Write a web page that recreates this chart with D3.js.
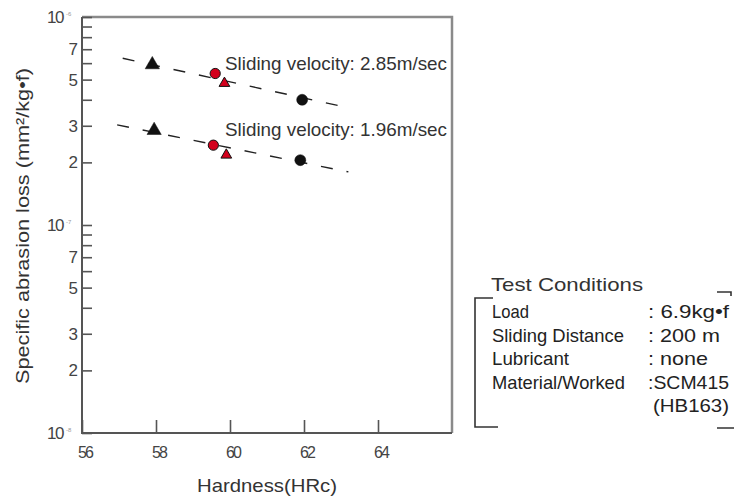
<!DOCTYPE html>
<html>
<head>
<meta charset="utf-8">
<script src="https://cdn.jsdelivr.net/npm/d3@7"></script>
<style>
  html, body { margin: 0; padding: 0; background: #fff; }
  svg { display: block; font-family: "Liberation Sans", Arial, sans-serif; }
</style>
</head>
<body>
<svg id="chart" width="734" height="496"></svg>
<script>
// ---------- data ----------
const xTickValues = [56, 58, 60, 62, 64];
const xTickLabels = ["56", "58", "60", "62", "64"];
const yMajorValues = [1e-8, 1e-7, 1e-6];
const yMajorExponents = ["-8", "-7", "-6"];
const yMinorMultipliers = [2, 3, 4, 5, 6, 7, 8, 9];
const yLabeledMultipliers = [2, 3, 5, 7];

const markerKinds = ["triangle", "circle", "triangle", "circle"];
const markerColors = ["black", "red", "red", "black"];

const hardness285 = [57.9, 59.6, 59.85, 61.95];
const loss285 = [5.9e-7, 5.35e-7, 4.8e-7, 4.0e-7];
const hardness196 = [57.95, 59.55, 59.9, 61.9];
const loss196 = [2.85e-7, 2.42e-7, 2.17e-7, 2.05e-7];

const trendHardness285 = [57.1, 63.2];
const trendLoss285 = [6.33e-7, 3.66e-7];
const trendHardness196 = [56.95, 63.2];
const trendLoss196 = [3.03e-7, 1.80e-7];

const seriesLabels = ["Sliding velocity: 2.85m/sec", "Sliding velocity: 1.96m/sec"];

const conditionNames = ["Load", "Sliding Distance", "Lubricant", "Material/Worked", ""];
const conditionValues = [": 6.9kg\u2022f", ": 200 m", ": none", ":SCM415", "(HB163)"];

(function () {
// ---------- layout ----------
const svg = d3.select("#chart");
const mL = 82, mR = 452, mT = 17, mB = 433;
const x = d3.scaleLinear().domain([56, 66]).range([mL, mR]);
const y = d3.scaleLog().domain([1e-8, 1e-6]).range([mB, mT]);
const RED = "#d3001c";
const axisColor = "#555";
const textColor = "#333";

// frame (top & right)
svg.append("path")
  .attr("d", `M${mL},${mT}H${mR}V${mB}`)
  .attr("fill", "none").attr("stroke", "#8a8a8a").attr("stroke-width", 2.5);

// y axis (ticks inside)
const yMinorTicks = [];
yMajorValues.slice(0, 2).forEach(m => yMinorMultipliers.forEach(k => yMinorTicks.push(m * k)));
const yAxis = d3.axisRight(y).tickValues(yMajorValues.concat(yMinorTicks)).tickSize(10).tickFormat("");
const gy = svg.append("g").attr("transform", `translate(${mL},0)`).call(yAxis);
gy.select(".domain").remove();
gy.selectAll(".tick line").attr("stroke", axisColor).attr("stroke-width", 1.6);

// x axis (ticks inside)
const xAxis = d3.axisTop(x).tickValues(xTickValues).tickSize(13).tickFormat("");
const gx = svg.append("g").attr("transform", `translate(0,${mB})`).call(xAxis);
gx.select(".domain").remove();
gx.selectAll(".tick line").attr("stroke", axisColor).attr("stroke-width", 1.6);

// axis lines
svg.append("path")
  .attr("d", `M${mL},${mT}V${mB}H${mR}`)
  .attr("fill", "none").attr("stroke", axisColor).attr("stroke-width", 2);

// x tick labels
svg.append("g").selectAll("text").data(xTickValues).join("text")
  .attr("x", d => x(d) + 3).attr("y", 458)
  .attr("text-anchor", "middle").attr("font-size", 16).attr("letter-spacing", -2)
  .attr("fill", "#444").text((d, i) => xTickLabels[i]);

// y tick labels: minor
const yLabeled = [];
yMajorValues.slice(0, 2).forEach(m => yLabeledMultipliers.forEach(k => yLabeled.push({v: m * k, t: String(k)})));
svg.append("g").selectAll("text").data(yLabeled).join("text")
  .attr("x", 78).attr("y", d => y(d.v) + 6)
  .attr("text-anchor", "end").attr("font-size", 17).attr("fill", "#444").text(d => d.t);

// y tick labels: powers of ten
const pow = svg.append("g").selectAll("text").data(yMajorValues).join("text")
  .attr("x", 47).attr("y", d => y(d) + 6).attr("font-size", 17).attr("fill", "#444")
  .attr("letter-spacing", -1.5);
pow.append("tspan").text("10");
pow.append("tspan").attr("dx", 3).attr("dy", -7).attr("font-size", 6).attr("fill", "#999")
  .attr("letter-spacing", 0)
  .text((d, i) => yMajorExponents[i]);

// trend lines
const line = d3.line().x(d => x(d[0])).y(d => y(d[1]));
[[trendHardness285, trendLoss285], [trendHardness196, trendLoss196]].forEach(([hx, ly]) => {
  svg.append("path")
    .attr("d", line(hx.map((h, i) => [h, ly[i]])))
    .attr("fill", "none").attr("stroke", "#222").attr("stroke-width", 1.4)
    .attr("stroke-dasharray", "12,14");
});

// markers
const triSym = d3.symbol().type(d3.symbolTriangle);
const circSym = d3.symbol().type(d3.symbolCircle);
function drawSeries(hs, ls) {
  hs.forEach((h, i) => {
    const kind = markerKinds[i], col = markerColors[i];
    let size;
    if (kind === "triangle") size = col === "black" ? 88 : 50;
    else size = col === "black" ? 95 : 82;
    const sym = kind === "triangle" ? triSym.size(size)() : circSym.size(size)();
    svg.append("path")
      .attr("d", sym)
      .attr("transform", `translate(${x(h)},${y(ls[i])})`)
      .attr("fill", col === "red" ? RED : "#111")
      .attr("stroke", "#111").attr("stroke-width", col === "red" ? 1 : 0.5);
  });
}
drawSeries(hardness285, loss285);
drawSeries(hardness196, loss196);

// series labels
[[seriesLabels[0], 70], [seriesLabels[1], 136]].forEach(([t, yy]) => {
  svg.append("text").attr("x", 225).attr("y", yy)
    .attr("font-size", 19).attr("fill", textColor)
    .attr("textLength", 222).attr("lengthAdjust", "spacingAndGlyphs")
    .text(t);
});

// axis titles
svg.append("text")
  .attr("transform", "translate(29,226) rotate(-90)")
  .attr("text-anchor", "middle").attr("font-size", 19).attr("fill", textColor)
  .attr("textLength", 316).attr("lengthAdjust", "spacingAndGlyphs")
  .text("Specific abrasion loss (mm\u00B2/kg\u2022f)");

svg.append("text")
  .attr("x", 197).attr("y", 492)
  .attr("font-size", 19).attr("fill", textColor)
  .attr("textLength", 140).attr("lengthAdjust", "spacingAndGlyphs")
  .text("Hardness(HRc)");

// Test conditions box
const box = svg.append("g");
box.append("text").attr("x", 491).attr("y", 291).attr("font-size", 19).attr("fill", textColor)
  .attr("textLength", 152).attr("lengthAdjust", "spacingAndGlyphs").text("Test Conditions");
box.append("path")
  .attr("d", "M493,298H475V427H498")
  .attr("fill", "none").attr("stroke", "#333").attr("stroke-width", 1.6);
box.append("path")
  .attr("d", "M717,292H731V296 M717,428H734")
  .attr("fill", "none").attr("stroke", "#333").attr("stroke-width", 1.6);

const nameWidths = [37, 132, 77, 133, 0];
const valueStarts = [648, 648, 648, 648, 653];
const valueWidths = [81, 72, 60, 81, 76];
const rowY = d3.scaleLinear().domain([0, 4]).range([318, 412]);
conditionNames.forEach((n, i) => {
  if (!n) return;
  box.append("text").attr("x", 492).attr("y", rowY(i)).attr("font-size", 19).attr("fill", "#222")
    .attr("textLength", nameWidths[i]).attr("lengthAdjust", "spacingAndGlyphs").text(n);
});
conditionValues.forEach((v, i) => {
  box.append("text").attr("x", valueStarts[i]).attr("y", rowY(i)).attr("font-size", 19).attr("fill", "#222")
    .style("white-space", "pre")
    .attr("textLength", valueWidths[i]).attr("lengthAdjust", "spacingAndGlyphs").text(v);
});
})();
</script>
</body>
</html>
